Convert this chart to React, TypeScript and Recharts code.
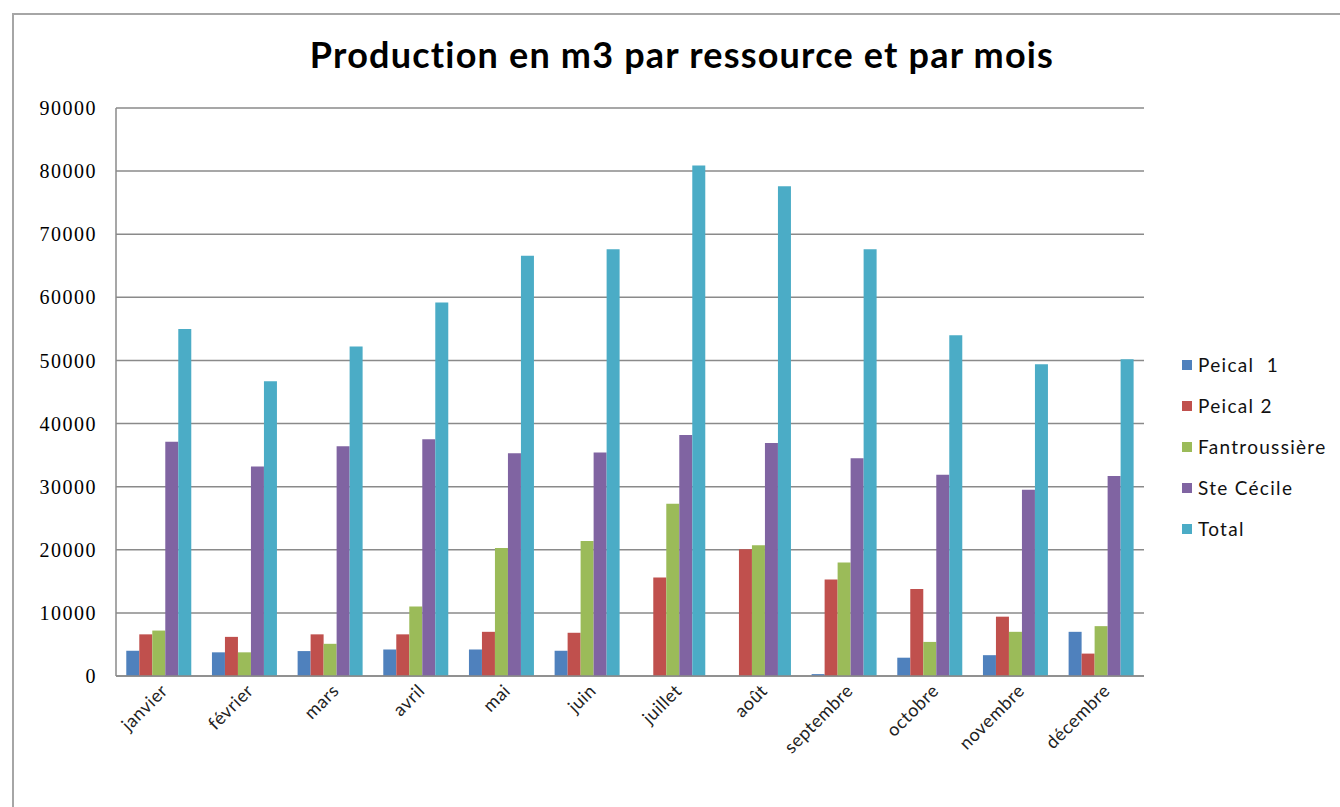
import { BarChart, Bar, XAxis, YAxis, CartesianGrid } from 'recharts';

const MONTHS = ['janvier', 'février', 'mars', 'avril', 'mai', 'juin', 'juillet', 'août', 'septembre', 'octobre', 'novembre', 'décembre'];
const PEICAL_1 = [4000, 3750, 3950, 4200, 4200, 4000, 0, 0, 300, 2900, 3300, 7000];
const PEICAL_2 = [6600, 6200, 6600, 6600, 7000, 6850, 15600, 20100, 15300, 13800, 9400, 3550];
const FANTROUSSIERE = [7200, 3750, 5100, 11000, 20300, 21400, 27300, 20700, 18000, 5400, 7000, 7900];
const STE_CECILE = [37100, 33200, 36400, 37500, 35300, 35400, 38200, 36900, 34500, 31900, 29500, 31700];
const TOTAL = [55000, 46700, 52200, 59200, 66600, 67600, 80900, 77600, 67600, 54000, 49400, 50200];
const Y_TICKS = [0, 10000, 20000, 30000, 40000, 50000, 60000, 70000, 80000, 90000];

const SERIES = [
  { key: 'p1', label: 'Peical  1', color: '#4F81BD' },
  { key: 'p2', label: 'Peical 2', color: '#C0504D' },
  { key: 'fan', label: 'Fantroussière', color: '#9BBB59' },
  { key: 'ste', label: 'Ste Cécile', color: '#8064A2' },
  { key: 'total', label: 'Total', color: '#4BACC6' },
];

const data = MONTHS.map((m, i) => ({
  month: m,
  p1: PEICAL_1[i],
  p2: PEICAL_2[i],
  fan: FANTROUSSIERE[i],
  ste: STE_CECILE[i],
  total: TOTAL[i],
}));

const FONT = 'Lato, "Open Sans", sans-serif';

const MonthTick = ({ x, y, payload }: any) => {
  const tx = x + 10;
  const ty = y + 8;
  return (
    <text x={tx} y={ty} transform={`rotate(-45, ${tx}, ${ty})`} textAnchor="end"
      fill="#222" fontSize={18} letterSpacing={0.5} fontFamily={FONT}>
      {payload.value}
    </text>
  );
};

export default function App() {
  return (
    <div style={{ position: 'absolute', left: 0, top: 0, width: 1340, height: 807, overflow: 'hidden', background: '#fff' }}>
      <div style={{ position: 'absolute', left: 12, top: 13, width: 1360, height: 820, border: '2px solid #a6a6a6', boxSizing: 'border-box' }} />
      <div style={{ position: 'absolute', left: 0, top: 32, width: 1364, textAlign: 'center', fontFamily: FONT, fontWeight: 700, fontSize: 36, letterSpacing: 1.2, color: '#000' }}>
        Production en m3 par ressource et par mois
      </div>
      <div style={{ position: 'absolute', left: 0, top: 0 }}>
        <BarChart width={1340} height={807} data={data}
          margin={{ top: 108, right: 196, left: 56, bottom: 101 }}
          barCategoryGap="12%" barGap={0}>
          <CartesianGrid vertical={false} stroke="#8a8a8a" strokeWidth={1.5} />
          <XAxis dataKey="month" interval={0} tick={<MonthTick />} tickLine={false}
            axisLine={{ stroke: '#8a8a8a', strokeWidth: 1.5 }} height={30} />
          <YAxis domain={[0, 90000]} ticks={Y_TICKS} interval={0} width={60}
            tickLine={false} tickMargin={13} axisLine={{ stroke: '#8a8a8a', strokeWidth: 1.5 }}
            tick={{ fill: '#000', fontSize: 20, fontFamily: '"Liberation Serif", serif', letterSpacing: 1.5 }} />
          {SERIES.map(s => (
            <Bar key={s.key} dataKey={s.key} name={s.label} fill={s.color} isAnimationActive={false} />
          ))}
        </BarChart>
      </div>
      <div style={{ position: 'absolute', left: 1182, top: 344, fontFamily: FONT, fontSize: 19, letterSpacing: 1.3, color: '#111' }}>
        {SERIES.map(s => (
          <div key={s.key} style={{ display: 'flex', alignItems: 'center', height: 41 }}>
            <div style={{ width: 10, height: 10, background: s.color, marginRight: 6 }} />
            <span style={{ whiteSpace: 'pre' }}>{s.label}</span>
          </div>
        ))}
      </div>
    </div>
  );
}
